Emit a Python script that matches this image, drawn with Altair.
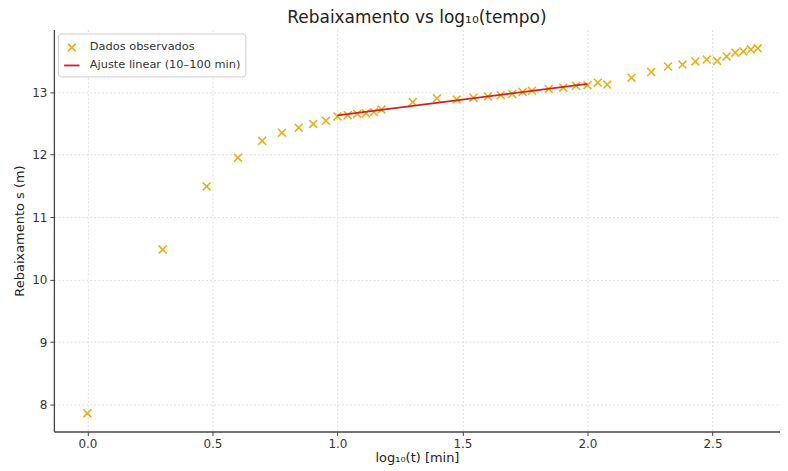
import altair as alt
import numpy as np
import pandas as pd

# time in minutes and drawdown s (m)
t_min = [1, 2, 3, 4, 5, 6, 7, 8, 9, 10, 11, 12, 13, 14, 15,
         20, 25, 30, 35, 40, 45, 50, 55, 60,
         70, 80, 90, 100, 110, 120,
         150, 180, 210, 240, 270, 300, 330, 360, 390, 420, 450, 480]
s_m = [7.86, 10.48, 11.49, 11.95, 12.22, 12.35, 12.43, 12.49, 12.54, 12.61,
       12.63, 12.65, 12.66, 12.68, 12.72,
       12.84, 12.90, 12.88, 12.91, 12.93, 12.95, 12.97, 13.00, 13.02,
       13.05, 13.07, 13.10, 13.11, 13.15, 13.12,
       13.23, 13.32, 13.41, 13.44, 13.49, 13.52, 13.50, 13.57, 13.63, 13.65, 13.68, 13.70]

series_names = ["Dados observados", "Ajuste linear (10–100 min)"]
series_colors = ["#E8AE1E", "#D42020"]
fit_range = [1.0, 2.0]
x_ticks = [0.0, 0.5, 1.0, 1.5, 2.0, 2.5]
y_ticks = [8, 9, 10, 11, 12, 13]

df = pd.DataFrame({"x": np.log10(t_min), "y": s_m, "series": series_names[0]})

X_PATH = "M-0.5,-0.5L0.5,0.5M-0.5,0.5L0.5,-0.5"
FONT = "DejaVu Sans"

color_scale = alt.Scale(domain=series_names, range=series_colors)
shape_scale = alt.Scale(domain=series_names, range=[X_PATH, "stroke"])
legend = alt.Legend(title=None, orient="top-left", offset=4,
                    fillColor="white", strokeColor="#cccccc", cornerRadius=3,
                    padding=5, labelFontSize=11.4, labelFont=FONT, labelColor="#333333",
                    symbolSize=240, symbolStrokeWidth=1.8, rowPadding=1,
                    labelOffset=9, labelLimit=300)

xs = alt.X("x:Q", scale=alt.Scale(domain=[-0.134, 2.77], nice=False, zero=False),
           axis=alt.Axis(values=x_ticks, format=".1f", title="log₁₀(t) [min]"))
ys = alt.Y("y:Q", scale=alt.Scale(domain=[7.57, 14.0], nice=False, zero=False),
           axis=alt.Axis(values=y_ticks, format="d", title="Rebaixamento s (m)"))

points = alt.Chart(df).mark_point(filled=False, size=250, strokeWidth=1.6, opacity=1).encode(
    x=xs, y=ys,
    color=alt.Color("series:N", scale=color_scale, legend=legend),
    shape=alt.Shape("series:N", scale=shape_scale, legend=legend),
)

fit = alt.Chart(df).transform_filter(
    (alt.datum.x >= fit_range[0] - 1e-9) & (alt.datum.x <= fit_range[1] + 1e-9)
).transform_regression("x", "y", extent=fit_range).transform_calculate(
    series=f"'{series_names[1]}'"
).mark_line(strokeWidth=1.8).encode(
    x="x:Q", y="y:Q",
    color=alt.Color("series:N", scale=color_scale, legend=legend),
)

chart = alt.layer(points, fit).properties(
    width=728, height=403,
    autosize=alt.AutoSizeParams(type="none"),
    padding={"left": 46, "top": 21, "right": 0, "bottom": 39},
    title=alt.Title("Rebaixamento vs log₁₀(tempo)", fontSize=17, font=FONT,
                    fontWeight="normal", color="#222222", offset=3, anchor="middle"),
).configure_view(stroke=None).configure_axis(
    labelFont=FONT, titleFont=FONT, labelFontSize=12, titleFontSize=13,
    labelColor="#333333", titleColor="#222222", titleFontWeight="normal",
    domainColor="#444444", domainWidth=1.3, tickColor="#444444", tickSize=4,
    gridColor="#d6d6d6", gridDash=[2, 2], gridWidth=0.8, labelPadding=3,
).configure_axisX(titlePadding=2).configure_axisY(titlePadding=5)

chart.save("out.html", embed_options={"renderer": "svg", "actions": False})
